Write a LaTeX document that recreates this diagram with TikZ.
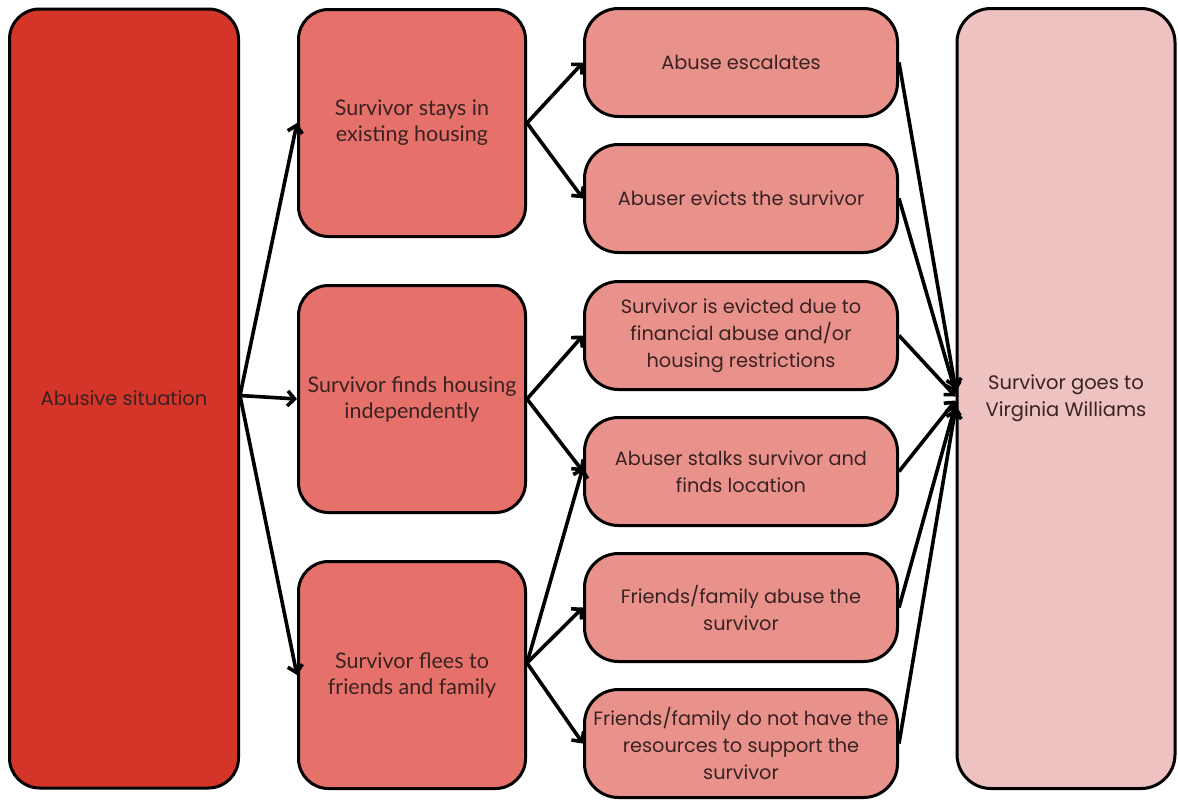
\documentclass[tikz,border=0pt]{standalone}
\usepackage{fontspec}
\setmainfont{Poppins}
\newfontfamily\boxfont{Lato}
\usetikzlibrary{arrows.meta,calc}
\definecolor{cA}{HTML}{D53529}
\definecolor{cB}{HTML}{E5716A}
\definecolor{cC}{HTML}{E9928C}
\definecolor{cD}{HTML}{EDC2C1}
\definecolor{ink}{HTML}{3A2222}
\tikzset{
  basebox/.style={draw=black, line width=3pt, align=center, text=ink, inner sep=0pt},
  boxA/.style={basebox, fill=cA, rounded corners=30pt, minimum width=229pt, minimum height=779pt,
    font=\fontsize{19.5}{27}\selectfont},
  boxB/.style={basebox, fill=cB, rounded corners=30pt, minimum width=227pt, minimum height=227pt,
    font=\boxfont\fontsize{21.5}{26}\selectfont},
  boxC/.style={basebox, fill=cC, rounded corners=34pt, minimum width=313pt, minimum height=108pt,
    font=\fontsize{19.3}{27}\selectfont},
  boxD/.style={basebox, fill=cD, rounded corners=34pt, minimum width=218pt, minimum height=780pt,
    font=\fontsize{19.5}{27}\selectfont},
  arr/.style={line width=3.6pt, -{Straight Barb[length=7pt,width=15pt,line width=3.6pt]}},
}
\begin{document}
\begin{tikzpicture}[x=1pt,y=-1pt]
\useasboundingbox[fill=white] (0,0) rectangle (1178,803);
\node[boxA] (A) at (124,398.5) {Abusive situation};
\node[boxB] (B1) at (412,123) {Survivor stays in\\existing housing};
\node[boxB] (B2) at (412,399) {Survivor finds housing\\independently};
\node[boxB] (B3) at (412,675) {Survivor flees to\\friends and family};
\node[boxC] (C1) at (741,62.5) {Abuse escalates};
\node[boxC] (C2) at (741,198.5) {Abuser evicts the survivor};
\node[boxC] (C3) at (741,335.5) {Survivor is evicted due to\\financial abuse and/or\\housing restrictions};
\node[boxC] (C4) at (741,471.5) {Abuser stalks survivor and\\finds location};
\node[boxC] (C5) at (741,607.5) {Friends/family abuse the\\survivor};
\node[boxC] (C6) at (741,743.5) {Friends/family do not have the\\resources to support the\\survivor};
\node[boxD] (D) at (1066,398.5) {Survivor goes to\\Virginia Williams};
\coordinate (a0) at ($(A.east)+(0,-3)$);
\draw[arr] (a0) -- (B1.west);
\draw[arr] (a0) -- (B2.west);
\draw[arr] (a0) -- (B3.west);
\draw[arr] (B1.east) -- (C1.west);
\draw[arr] (B1.east) -- (C2.west);
\draw[arr] (B2.east) -- (C3.west);
\draw[arr] (B2.east) -- (C4.west);
\coordinate (b3) at ($(B3.east)+(0,-12)$);
\draw[arr] (b3) -- ($(C4.west)+(0,-4)$);
\draw[arr] (b3) -- (C5.west);
\draw[arr] (b3) -- (C6.west);
\coordinate (d1) at ($(D.west)+(0,-10)$);
\coordinate (d2) at ($(D.west)+(0,-6)$);
\coordinate (d3) at ($(D.west)+(0,-2)$);
\coordinate (d4) at ($(D.west)+(0,2)$);
\coordinate (d5) at ($(D.west)+(0,6)$);
\coordinate (d6) at ($(D.west)+(0,10)$);
\draw[arr] (C1.east) -- (d1);
\draw[arr] (C2.east) -- (d2);
\draw[arr] (C3.east) -- (d3);
\draw[arr] (C4.east) -- (d4);
\draw[arr] (C5.east) -- (d5);
\draw[arr] (C6.east) -- (d6);
\end{tikzpicture}
\end{document}
